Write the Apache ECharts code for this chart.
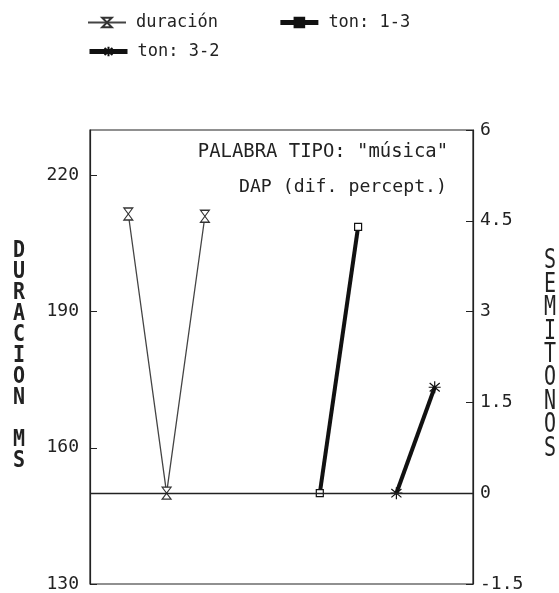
<!DOCTYPE html>
<html>
<head>
<meta charset="utf-8">
<script src="https://cdn.jsdelivr.net/npm/echarts@6/dist/echarts.min.js"></script>
<style>html,body{margin:0;padding:0;background:#fff;}#c{width:559px;height:593px;}</style>
</head>
<body>
<div id="c"></div>
<script>
// ---- data ----
const durX = [1, 2, 3];
const durMs = [211.5, 150, 211];
const ton13X = [6, 7];
const ton13 = [0, 4.4];
const ton32X = [8, 9];
const ton32 = [0, 1.75];
const seriesNames = ['duración', 'ton: 1-3', 'ton: 3-2'];
const leftTitle = 'DURACION MS';
const rightTitle = 'SEMITONOS';
const noteLines = ['PALABRA TIPO: "música"', 'DAP (dif. percept.)'];

const FONT = 'DejaVu Sans Mono';
const INK = '#222';
const pairs = (xs, ys) => xs.map((x, i) => [x, ys[i]]);

const hourglass = 'path://M0,0 L10,0 L0,13 L10,13 Z';
const asterisk = 'path://M5,0 L5,10 M0.8,1.5 L9.2,8.5 M9.2,1.5 L0.8,8.5 M0,5 L10,5';

const legendText = {fontFamily: FONT, fontSize: 17, color: INK, padding: [0, 0, 0, 5]};

const chart = echarts.init(document.getElementById('c'), null, {renderer: 'canvas'});
chart.setOption({
  animation: false,
  backgroundColor: '#fff',
  grid: {left: 90, right: 86, top: 130, bottom: 9, show: true, borderColor: INK, borderWidth: 1.2, backgroundColor: 'transparent'},
  legend: [
    {left: 82, top: 9, itemWidth: 38, itemHeight: 12, itemGap: 60,
     data: [
       {name: seriesNames[0]},
       {name: seriesNames[1], lineStyle: {width: 5}, itemStyle: {color: '#111', borderColor: '#111'}}
     ],
     textStyle: legendText},
    {left: 82, top: 38, itemWidth: 38, itemHeight: 12,
     data: [{name: seriesNames[2], lineStyle: {width: 5}}],
     textStyle: legendText}
  ],
  xAxis: {type: 'value', min: 0, max: 10, show: false},
  yAxis: [
    {type: 'value', min: 130, max: 230, interval: 30, position: 'left',
     axisLine: {show: true, lineStyle: {color: INK, width: 1.2}},
     axisTick: {show: true, inside: true, length: 7, lineStyle: {color: INK}},
     splitLine: {show: false},
     axisLabel: {showMaxLabel: false, margin: 11, color: INK, fontFamily: FONT, fontSize: 18}},
    {type: 'value', min: -1.5, max: 6, interval: 1.5, position: 'right',
     axisLine: {show: true, lineStyle: {color: INK, width: 1.2}},
     axisTick: {show: true, inside: true, length: 7, lineStyle: {color: INK}},
     splitLine: {show: false},
     axisLabel: {margin: 7, color: INK, fontFamily: FONT, fontSize: 18}}
  ],
  series: [
    {name: seriesNames[0], type: 'line', yAxisIndex: 0, data: pairs(durX, durMs),
     symbol: hourglass, symbolSize: [9, 12], showAllSymbol: true,
     lineStyle: {color: '#444', width: 1.3},
     itemStyle: {color: '#fff', borderColor: '#333', borderWidth: 1.1}},
    {name: seriesNames[1], type: 'line', yAxisIndex: 1, data: pairs(ton13X, ton13),
     symbol: 'rect', symbolSize: 7,
     lineStyle: {color: '#111', width: 4},
     itemStyle: {color: '#fff', borderColor: '#111', borderWidth: 1.2},
     markLine: {silent: true, symbol: 'none', label: {show: false},
       lineStyle: {color: INK, type: 'solid', width: 1.4},
       data: [{yAxis: 0}]}},
    {name: seriesNames[2], type: 'line', yAxisIndex: 1, data: pairs(ton32X, ton32),
     symbol: asterisk, symbolSize: 12,
     lineStyle: {color: '#111', width: 4},
     itemStyle: {color: 'none', borderColor: '#111', borderWidth: 1.2}}
  ],
  graphic: [
    {type: 'text', x: 19, y: 240, scaleY: 1.15, style: {text: leftTitle.split('').join('\n'), textAlign: 'center', textVerticalAlign: 'top',
      fontFamily: FONT, fontSize: 20, fontWeight: 'bold', lineHeight: 18.3, fill: INK}},
    {type: 'text', x: 550, y: 250, scaleY: 1.3, style: {text: rightTitle.split('').join('\n'), textAlign: 'center', textVerticalAlign: 'top',
      fontFamily: FONT, fontSize: 20, lineHeight: 18, fill: INK}},
    {type: 'text', x: 448, y: 152, style: {text: noteLines[0], textAlign: 'right', textVerticalAlign: 'middle',
      fontFamily: FONT, fontSize: 18.9, fill: INK}},
    {type: 'text', x: 447, y: 187, style: {text: noteLines[1], textAlign: 'right', textVerticalAlign: 'middle',
      fontFamily: FONT, fontSize: 18.2, fill: INK}}
  ]
});
</script>
</body>
</html>
